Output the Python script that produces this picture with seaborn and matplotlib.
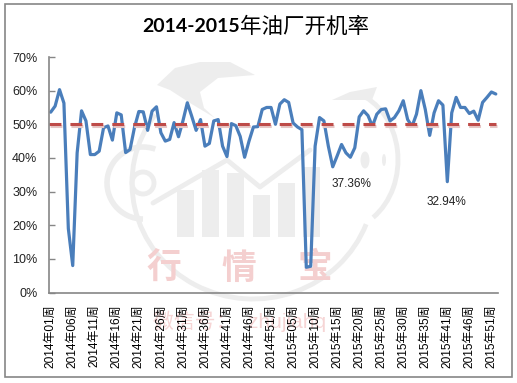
import numpy as np
import pandas as pd
import seaborn as sns
import matplotlib.pyplot as plt
from matplotlib.patches import Rectangle, Arc, Circle, Polygon, Ellipse
from matplotlib.transforms import ScaledTranslation

TITLE_YEARS = '2014-2015'
TITLE_REST = '年油厂开机率'
THRESHOLD = 50

# weekly utilisation (%)
rate_2014 = [53.6, 55.4, 60.3, 56.3, 19.0, 8.0, 41.5, 54.0, 51.0, 41.0,
             41.0, 42.0, 49.0, 49.5, 45.3, 53.4, 52.8, 41.6, 42.5, 49.0,
             53.8, 53.7, 48.2, 53.9, 55.2, 47.5, 45.0, 45.5, 50.5, 46.3,
             51.0, 56.4, 52.4, 48.2, 51.4, 43.5, 44.3, 51.0, 51.4, 43.5,
             40.4, 50.2, 49.6, 46.4, 40.2, 45.0, 49.2, 49.3, 54.4, 55.0,
             55.0]
rate_2015 = [50.0, 56.0, 57.3, 56.5, 50.4, 49.2, 48.4, 7.5, 7.8, 43.5,
             52.0, 51.0, 43.5, 37.36, 40.6, 44.0, 41.5, 40.2, 43.0, 52.2,
             54.0, 52.6, 49.4, 53.0, 54.4, 54.6, 51.0, 52.0, 54.0, 57.0,
             51.4, 49.4, 53.0, 60.0, 54.4, 46.7, 53.4, 57.0, 55.7, 32.94,
             53.4, 58.0, 55.0, 55.0, 53.2, 53.9, 51.2, 56.5, 58.0, 59.6,
             59.0]

weeks_2014 = [f'2014年{w:02d}周' for w in range(1, 52)]
weeks_2015 = [f'2015年{w:02d}周' for w in list(range(1, 36)) + list(range(37, 53))]
tick_weeks = weeks_2014[::5] + weeks_2015[4:-1:5]

# (label, week it sits under, x offset in weeks, y in %)
callouts = [('37.36%', '2015年14周', -0.3, 32.3),
            ('32.94%', '2015年41周', -4.7, 26.9)]

df = pd.DataFrame({'week': weeks_2014 + weeks_2015, 'rate': rate_2014 + rate_2015})
df['pos'] = np.arange(len(df))

sns.set_style('white')
plt.rcParams['font.family'] = ['Liberation Sans', 'Noto Sans CJK SC', 'DejaVu Sans']

W, H = 517, 383
fig = plt.figure(figsize=(W / 100, H / 100), dpi=100, facecolor='white')
fig.add_artist(Rectangle((4.5 / W, 1 - 377 / H), 507.5 / W, 373.5 / H, transform=fig.transFigure,
                         fill=False, ec='#868686', lw=1.2))
ax = fig.add_axes([48.5 / W, 1 - 292.5 / H, 449.5 / W, 235.5 / H])
ax.patch.set_alpha(0)

# faint logo behind the plot, in figure pixels
bg = fig.add_axes([0, 0, 1, 1], zorder=-1)
bg.set_xlim(0, W)
bg.set_ylim(H, 0)
bg.axis('off')
grey = '#ededed'
bg.add_patch(Arc((253, 183), 242, 232, theta1=20, theta2=215, ec=grey, lw=3.5))
bg.add_patch(Arc((143, 183), 72, 72, theta1=90, theta2=290, ec=grey, lw=4))
bg.add_patch(Circle((143, 183), 11, fill=False, ec=grey, lw=3.5))
bg.add_patch(Polygon([[157, 85], [175, 68], [200, 62], [230, 62], [255, 75], [218, 78], [200, 92],
                      [204, 108], [215, 118], [190, 103], [170, 90]], fc=grey, ec='none'))
bg.add_patch(Polygon([[332, 100], [350, 92], [377, 87], [372, 100], [350, 100]], fc=grey, ec='none'))
bg.add_patch(Arc((340, 160), 116, 140, theta1=-75, theta2=60, ec=grey, lw=3.5))
bg.add_patch(Ellipse((365, 160), 9, 17, fc=grey, ec='none'))
bg.add_patch(Ellipse((384, 160), 4, 12, fc=grey, ec='none'))
bg.plot([153, 227, 260, 310], [203, 160, 187, 150], color=grey, lw=3.5, solid_capstyle='round')
for x0, y0 in [(177, 190), (202, 170), (227, 173), (253, 195), (278, 183), (303, 167)]:
    bg.add_patch(Rectangle((x0, y0), 17, 237 - y0, fc=grey, ec='none'))
pink = '#f4cfcf'
for s, x in [('行', 164), ('情', 239), ('宝', 315)]:
    bg.text(x, 268, s, color=pink, fontsize=25, ha='center', va='center', fontweight='bold',
            family=['Noto Sans CJK SC'])
bg.text(240, 321, '微信号：  zhujiahq', color='#f6d5d5', fontsize=15, ha='center', va='center')

sns.lineplot(data=df, x='pos', y='rate', color='#4a7ebb', lw=2.3, ax=ax, errorbar=None,
             solid_joinstyle='round')
shadow = ax.transData + ScaledTranslation(1 / 100, -1.5 / 100, fig.dpi_scale_trans)
line_x = [df['pos'].iloc[0] - 0.3, df['pos'].iloc[-1]]
ax.plot(line_x, [THRESHOLD] * 2, color='#e6c7c6', lw=2.2, dashes=(3.9, 2.95), transform=shadow)
ax.plot(line_x, [THRESHOLD] * 2, color='#be4b48', lw=2.2, dashes=(3.9, 2.95))

pos_of = dict(zip(df['week'], df['pos']))
for text, wk, dx, y in callouts:
    ax.text(pos_of[wk] + dx, y, text, fontsize=8.5, color='#222222', ha='left', va='center')

ax.set_xlim(-0.5, len(df) - 0.5)
ax.set_ylim(0, 70)
ax.set_yticks(range(0, 71, 10))
ax.set_yticklabels([f'{v}%' for v in range(0, 71, 10)], fontsize=9, color='#222222')
ax.set_xticks([pos_of[w] for w in tick_weeks])
ax.set_xticklabels(tick_weeks, rotation=90, fontsize=8.6, color='black')
ax.set_xlabel('')
ax.set_ylabel('')
ax.tick_params(axis='y', left=True, direction='in', length=4, width=1, color='#868686', pad=8)
ax.tick_params(axis='x', bottom=False, pad=5)
sns.despine(ax=ax)
for side in ['left', 'bottom']:
    ax.spines[side].set_color('#868686')
    ax.spines[side].set_linewidth(1.2)

fig.text(240 / W, 1 - 27 / H, TITLE_YEARS, fontsize=14, fontweight='bold', ha='right', va='center',
         family=['Lato'], color='black')
fig.text(240 / W, 1 - 27 / H, TITLE_REST, fontsize=15.5, ha='left', va='center',
         family=['Noto Sans CJK SC'], color='black')

fig.savefig('out.png', dpi=100)
